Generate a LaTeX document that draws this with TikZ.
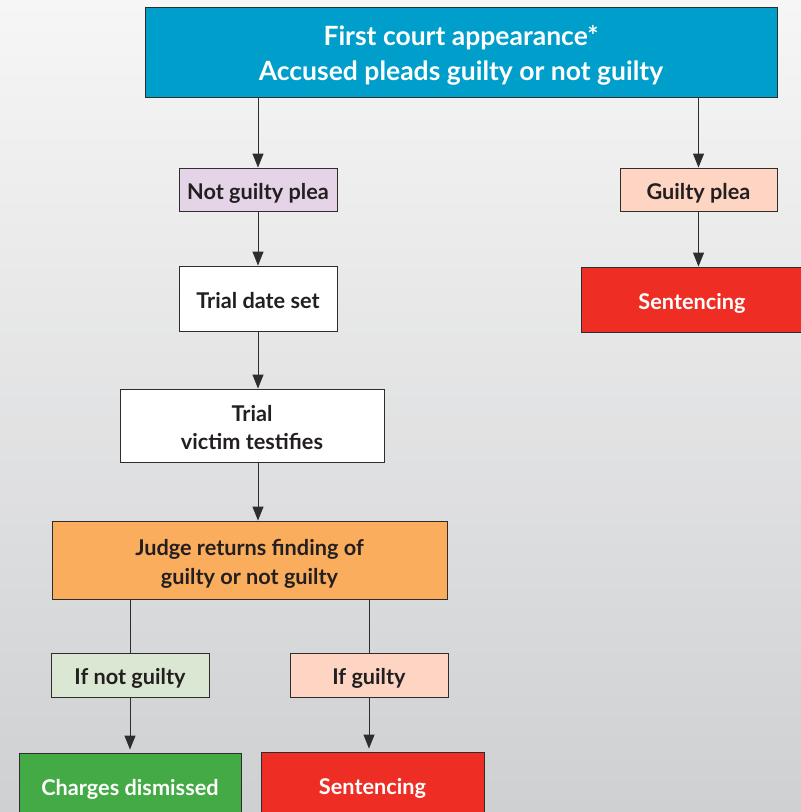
\documentclass[tikz,border=0pt]{standalone}
\usepackage{fontspec}
\setmainfont{Lato}[UprightFont=* Bold]
\usetikzlibrary{arrows.meta}
\definecolor{bgtop}{RGB}{246,246,246}
\definecolor{bgbot}{RGB}{207,208,210}
\definecolor{topblue}{RGB}{0,158,203}
\definecolor{lav}{RGB}{229,212,232}
\definecolor{peach}{RGB}{253,213,194}
\definecolor{sred}{RGB}{238,45,36}
\definecolor{orng}{RGB}{250,173,92}
\definecolor{lgreen}{RGB}{218,232,211}
\definecolor{dgreen}{RGB}{67,170,69}
\definecolor{ink}{RGB}{35,31,32}
\definecolor{edge}{RGB}{45,45,45}
\tikzset{
  box/.style={draw=edge, line width=0.9pt, inner sep=0pt, align=center, text=ink,
    font=\fontsize{21.7}{28.5}\selectfont, text height=19.6pt, text depth=0pt},
  twoline/.style={text height=48.1pt, text depth=0pt},
  arr/.style={draw=edge, line width=1pt, -{Triangle[width=11pt,length=14pt]}},
  ln/.style={draw=edge, line width=1pt},
}
\begin{document}
\begin{tikzpicture}[x=1pt,y=-1pt]
\useasboundingbox (0,0) rectangle (801,812);
\shade[top color=bgtop, bottom color=bgbot] (0,0) rectangle (801,812);
\clip (0,0) rectangle (801,812);
\node[box, fill=topblue, text=white, minimum width=632pt, minimum height=90pt,
  font=\fontsize{26.5}{35}\selectfont, text height=56pt, text depth=0pt] (top) at (461,52.5)
  {First court appearance*\\Accused pleads guilty or not guilty};
\node[box, fill=lav, minimum width=158pt, minimum height=43pt] (notg) at (258,189.5) {Not guilty plea};
\node[box, fill=peach, minimum width=157pt, minimum height=43pt] (gp) at (698.5,189.5) {Guilty plea};
\node[box, fill=sred, text=white, minimum width=222pt, minimum height=65pt] (sentR) at (692,299.5) {Sentencing};
\node[box, fill=white, minimum width=158pt, minimum height=65pt] (tds) at (258,298.5) {Trial date set};
\node[box, twoline, fill=white, minimum width=264pt, minimum height=73pt] (trial) at (252,425.5) {Trial\\victim testifies};
\node[box, twoline, fill=orng, minimum width=395pt, minimum height=78pt] (judge) at (249.5,560) {Judge returns finding of\\guilty or not guilty};
\node[box, fill=lgreen, minimum width=158pt, minimum height=44pt] (ifn) at (130,675) {If not guilty};
\node[box, fill=peach, minimum width=158pt, minimum height=44pt] (ifg) at (369,675) {If guilty};
\node[box, fill=dgreen, text=white, minimum width=222pt, minimum height=65pt] (chg) at (130,785.5) {Charges dismissed};
\node[box, fill=sred, text=white, minimum width=223pt, minimum height=65pt] (sentB) at (372.5,784.5) {Sentencing};
\draw[arr] (top.south -| notg.north) -- (notg.north);
\draw[arr] (top.south -| gp.north) -- (gp.north);
\draw[arr] (gp.south) -- (gp.south |- sentR.north);
\draw[arr] (notg.south) -- (tds.north);
\draw[arr] (tds.south) -- (tds.south |- trial.north);
\draw[arr] (tds.south |- trial.south) -- (tds.south |- judge.north);
\draw[ln] (judge.south -| ifn.north) -- (ifn.north);
\draw[ln] (judge.south -| ifg.north) -- (ifg.north);
\draw[arr] (ifn.south) -- ([yshift=3pt]ifn.south |- chg.north);
\draw[arr] (ifg.south) -- ([yshift=3pt]ifg.south |- sentB.north);
\end{tikzpicture}
\end{document}
